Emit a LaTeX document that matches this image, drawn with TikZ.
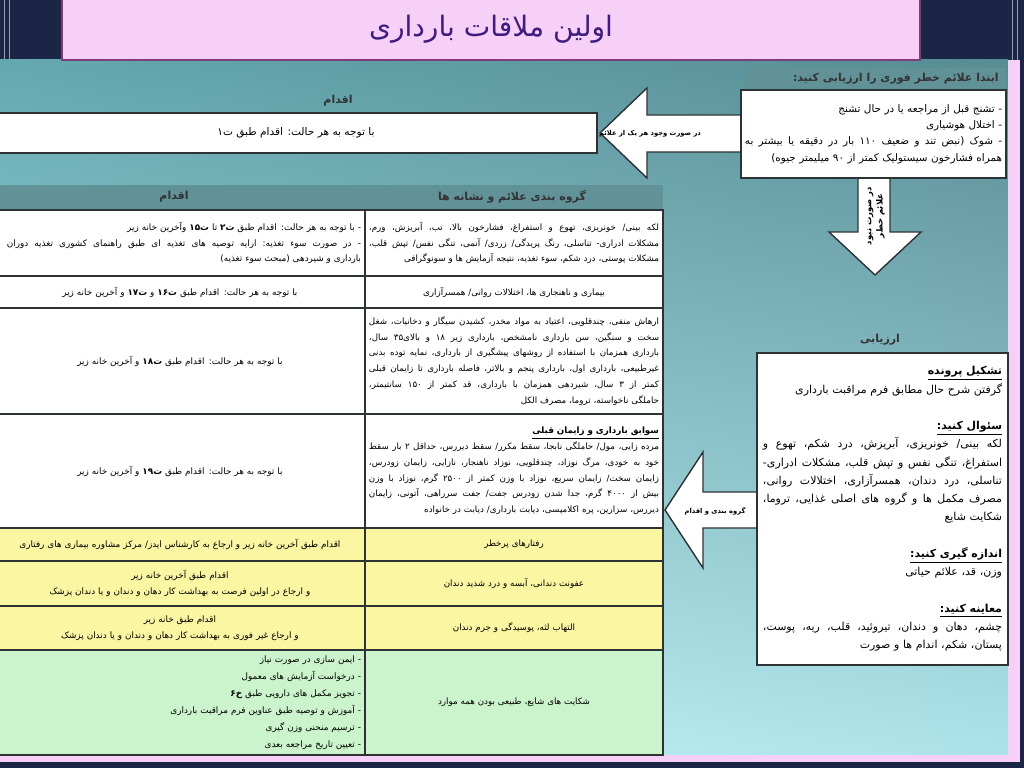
\documentclass[tikz,border=0pt]{standalone}
\usepackage{fontspec}
\newfontfamily\farsi[Script=Arabic]{DejaVu Sans}
\TeXXeTstate=1
\usetikzlibrary{positioning,calc,shadings}

\newcommand{\fa}[1]{\beginR #1\endR}
\newcommand{\faj}[2][\hsize]{\makebox[#1][s]{\spaceskip=\fontdimen2\font plus 1em minus \fontdimen4\font
  \xspaceskip=\spaceskip\beginR #2\endR}}
\newcommand{\fabu}[1]{\underline{\textbf{\beginR #1\endR}}}

\definecolor{navy}{RGB}{27,37,70}
\definecolor{slidepink}{RGB}{246,208,246}
\definecolor{titleline}{RGB}{128,60,120}
\definecolor{titletext}{RGB}{62,28,130}
\definecolor{tealUL}{RGB}{100,168,176}
\definecolor{tealUR}{RGB}{88,140,148}
\definecolor{tealLL}{RGB}{200,245,250}
\definecolor{tealLR}{RGB}{172,226,233}
\definecolor{bandteal}{RGB}{96,146,152}
\definecolor{gridline}{RGB}{45,50,52}
\definecolor{rowyellow}{RGB}{250,246,162}
\definecolor{rowgreen}{RGB}{204,244,204}

\begin{document}
\begin{tikzpicture}[x=0.025cm, y=-0.025cm,
  cell/.style={draw=gridline, line width=1.4pt, outer sep=0pt, inner xsep=1mm, inner ysep=0pt},
  lcell/.style={cell, minimum width=9.25cm, text width=9.05cm, font=\farsi\fontsize{6.3}{11.2}\selectfont},
  rcell/.style={cell, minimum width=7.45cm, text width=7.25cm, font=\farsi\fontsize{6.2}{11.2}\selectfont},
  panel/.style={draw=gridline, line width=1pt, fill=white, outer sep=0pt, inner sep=1.5mm},
  head/.style={font=\farsi\bfseries\fontsize{7.8}{10}\selectfont, text=black!80, inner sep=0pt},
  tag/.style={font=\farsi\bfseries\fontsize{4.8}{6.5}\selectfont, inner sep=0pt, align=center},
  blockarrow/.style={draw=gridline, fill=white, line width=1pt, line join=miter}]
  \useasboundingbox (0,0) rectangle (1024,768);

  % slide frame
  \fill[navy] (0,0) rectangle (1024,768);
  \shade[upper left=tealUL, upper right=tealUR, lower left=tealLL, lower right=tealLR]
    (0,60) rectangle (1008,756);
  \fill[slidepink] (1008,60) rectangle (1020,762);
  \fill[slidepink] (0,755) rectangle (1020,762);
  \draw[white!55!navy, line width=0.6pt] (4,0) -- (4,60) (9,0) -- (9,60)
    (1012,0) -- (1012,60) (1017,0) -- (1017,60);
  \node[draw=titleline, line width=1.5pt, fill=slidepink, minimum width=21.45cm, minimum height=1.55cm,
    font=\farsi\fontsize{20}{22}\selectfont, text=titletext] (title) at (491,29) {\fa{اولین ملاقات بارداری}};

  % danger signs
  \fill[bandteal] (745,68) rectangle (1006,90);
  \node[head, anchor=east] (warnHead) at (999,79) {\fa{ابتدا علائم خطر فوری را ارزیابی کنید:}};
  \draw[blockarrow] (600,133) -- (647,88) -- (647,115) -- (745,115) -- (745,152)
    -- (647,152) -- (647,178) -- cycle;
  \draw[blockarrow] (858,175) -- (890,175) -- (890,232) -- (921,232) -- (875,275)
    -- (829,232) -- (858,232) -- cycle;
  \node[panel, inner xsep=1mm, minimum width=6.625cm, minimum height=2.2cm, text width=6.425cm, align=right,
    font=\farsi\fontsize{7.4}{11.6}\selectfont] (warn) at (873.5,134) {%
    \fa{- تشنج قبل از مراجعه یا در حال تشنج}\\
    \fa{- اختلال هوشیاری}\\
    \faj{- شوک (نبض تند و ضعیف ۱۱۰ بار در دقیقه یا بیشتر به}\\
    \fa{همراه فشارخون سیستولیک کمتر از ۹۰ میلیمتر جیوه)}};
  \node[tag] (ifWarn) at (650,134) {\fa{در صورت وجود هر یک از علائم}};
  \node[tag, rotate=90, font=\farsi\bfseries\fontsize{6}{8}\selectfont] (noWarn) at (876,216)
    {\fa{در صورت نبود}\\\fa{علائم خطر}};

  \node[head] (actHead) at (338,101) {\fa{اقدام}};
  \node[panel, minimum width=15.05cm, minimum height=1cm, font=\farsi\fontsize{7.5}{10}\selectfont]
    (act0) at (296,133) {\fa{با توجه به هر حالت: اقدام طبق ت۱}};

  % table
  \fill[bandteal] (-5,185) rectangle (663,210);
  \node[head] (hdAct) at (174,197) {\fa{اقدام}};
  \node[head] (hdSign) at (512,197) {\fa{گروه بندی علائم و نشانه ها}};

  \node[rcell, fill=white, minimum height=1.65cm, align=right] (sign1) at (514,243) {%
    \faj{لکه بینی/ خونریزی، تهوع و استفراغ، فشارخون بالا، تب، آبریزش، ورم،}\\
    \faj{مشکلات ادراری- تناسلی، رنگ پریدگی/ زردی/ آنمی، تنگی نفس/ تپش قلب،}\\
    \fa{مشکلات پوستی، درد شکم، سوء تغذیه، نتیجه آزمایش ها و سونوگرافی}};
  \node[lcell, fill=white, minimum height=1.65cm, align=right, left=0pt of sign1] (act1) {%
    \fa{- با توجه به هر حالت: اقدام طبق \textbf{ت۲} تا \textbf{ت۱۵} وآخرین خانه زیر}\\
    \faj[8.85cm]{- در صورت سوء تغذیه: ارایه توصیه های تغذیه ای طبق راهنمای کشوری تغذیه دوران}\\
    \fa{بارداری و شیردهی (مبحث سوء تغذیه)}};

  \node[rcell, fill=white, minimum height=0.8cm, align=center, below=0pt of sign1] (sign2)
    {\fa{بیماری و ناهنجاری ها، اختلالات روانی/ همسرآزاری}};
  \node[lcell, fill=white, minimum height=0.8cm, align=center, left=0pt of sign2] (act2)
    {\fa{با توجه به هر حالت: اقدام طبق \textbf{ت۱۶} و \textbf{ت۱۷} و آخرین خانه زیر}};

  \node[rcell, fill=white, minimum height=2.65cm, align=right, below=0pt of sign2] (sign3) {%
    \faj{ارهاش منفی، چندقلویی، اعتیاد به مواد مخدر، کشیدن سیگار و دخانیات، شغل}\\
    \faj{سخت و سنگین، سن بارداری نامشخص، بارداری زیر ۱۸ و بالای۳۵ سال،}\\
    \faj{بارداری همزمان با استفاده از روشهای پیشگیری از بارداری، نمایه توده بدنی}\\
    \faj{غیرطبیعی، بارداری اول، بارداری پنجم و بالاتر، فاصله بارداری تا زایمان قبلی}\\
    \faj{کمتر از ۳ سال، شیردهی همزمان با بارداری، قد کمتر از ۱۵۰ سانتیمتر،}\\
    \fa{حاملگی ناخواسته، تروما، مصرف الکل}};
  \node[lcell, fill=white, minimum height=2.65cm, align=center, left=0pt of sign3] (act3)
    {\fa{با توجه به هر حالت: اقدام طبق \textbf{ت۱۸} و آخرین خانه زیر}};

  \node[rcell, fill=white, minimum height=2.85cm, align=right, below=0pt of sign3] (sign4) {%
    \fabu{سوابق بارداری و زایمان قبلی}\\
    \faj{مرده زایی، مول/ حاملگی نابجا، سقط مکرر/ سقط دیررس، حداقل ۲ بار سقط}\\
    \faj{خود به خودی، مرگ نوزاد، چندقلویی، نوزاد ناهنجار، نازایی، زایمان زودرس،}\\
    \faj{زایمان سخت/ زایمان سریع، نوزاد با وزن کمتر از ۲۵۰۰ گرم، نوزاد با وزن}\\
    \faj{بیش از ۴۰۰۰ گرم، جدا شدن زودرس جفت/ جفت سرراهی، آتونی، زایمان}\\
    \fa{دیررس، سزارین، پره اکلامپسی، دیابت بارداری/ دیابت در خانواده}};
  \node[lcell, fill=white, minimum height=2.85cm, align=center, left=0pt of sign4] (act4)
    {\fa{با توجه به هر حالت: اقدام طبق \textbf{ت۱۹} و آخرین خانه زیر}};

  \node[rcell, fill=rowyellow, minimum height=0.825cm, align=center, below=0pt of sign4] (sign5)
    {\fa{رفتارهای پرخطر}};
  \node[lcell, fill=rowyellow, minimum height=0.825cm, align=center, left=0pt of sign5] (act5)
    {\fa{اقدام طبق آخرین خانه زیر و ارجاع به کارشناس ایدز/ مرکز مشاوره بیماری های رفتاری}};

  \node[rcell, fill=rowyellow, minimum height=1.125cm, align=center, below=0pt of sign5] (sign6)
    {\fa{عفونت دندانی، آبسه و درد شدید دندان}};
  \node[lcell, fill=rowyellow, minimum height=1.125cm, align=center, left=0pt of sign6] (act6)
    {\fa{اقدام طبق آخرین خانه زیر}\\
     \fa{و ارجاع در اولین فرصت به بهداشت کار دهان و دندان و یا دندان پزشک}};

  \node[rcell, fill=rowyellow, minimum height=1.1cm, align=center, below=0pt of sign6] (sign7)
    {\fa{التهاب لثه، پوسیدگی و جرم دندان}};
  \node[lcell, fill=rowyellow, minimum height=1.1cm, align=center, left=0pt of sign7] (act7)
    {\fa{اقدام طبق خانه زیر}\\
     \fa{و ارجاع غیر فوری به بهداشت کار دهان و دندان و یا دندان پزشک}};

  \node[rcell, fill=rowgreen, minimum height=2.625cm, align=center, below=0pt of sign7] (sign8)
    {\fa{شکایت های شایع، طبیعی بودن همه موارد}};
  \node[lcell, fill=rowgreen, minimum height=2.625cm, align=right, left=0pt of sign8,
    font=\farsi\fontsize{6.3}{12.1}\selectfont] (act8) {%
    \fa{- ایمن سازی در صورت نیاز}\\
    \fa{- درخواست آزمایش های معمول}\\
    \fa{- تجویز مکمل های دارویی طبق \textbf{خ۶}}\\
    \fa{- آموزش و توصیه طبق عناوین فرم مراقبت بارداری}\\
    \fa{- ترسیم منحنی وزن گیری}\\
    \fa{- تعیین تاریخ مراجعه بعدی}};

  % assessment
  \draw[blockarrow] (665,510) -- (703,452) -- (703,492) -- (760,492) -- (760,528)
    -- (703,528) -- (703,568) -- cycle;
  \node[panel, minimum width=6.275cm, minimum height=7.8cm, text width=5.975cm, align=right,
    font=\farsi\fontsize{7.8}{13}\selectfont] (eval) at (882.5,509) {%
    \fabu{تشکیل پرونده}\\
    \fa{گرفتن شرح حال مطابق فرم مراقبت بارداری}\\[13pt]
    \fabu{سئوال کنید:}\\
    \faj{لکه بینی/ خونریزی، آبریزش، درد شکم، تهوع و}\\
    \faj{استفراغ، تنگی نفس و تپش قلب، مشکلات ادراری-}\\
    \faj{تناسلی، درد دندان، همسرآزاری، اختلالات روانی،}\\
    \faj{مصرف مکمل ها و گروه های اصلی غذایی، تروما،}\\
    \fa{شکایت شایع}\\[13pt]
    \fabu{اندازه گیری کنید:}\\
    \fa{وزن، قد، علائم حیاتی}\\[13pt]
    \fabu{معاینه کنید:}\\
    \faj{چشم، دهان و دندان، تیروئید، قلب، ریه، پوست،}\\
    \fa{پستان، شکم، اندام ها و صورت}};
  \node[head] (evalHead) at (880,340) {\fa{ارزیابی}};
  \node[tag] (toGroup) at (715,511) {\fa{گروه بندی و اقدام}};
\end{tikzpicture}
\end{document}
